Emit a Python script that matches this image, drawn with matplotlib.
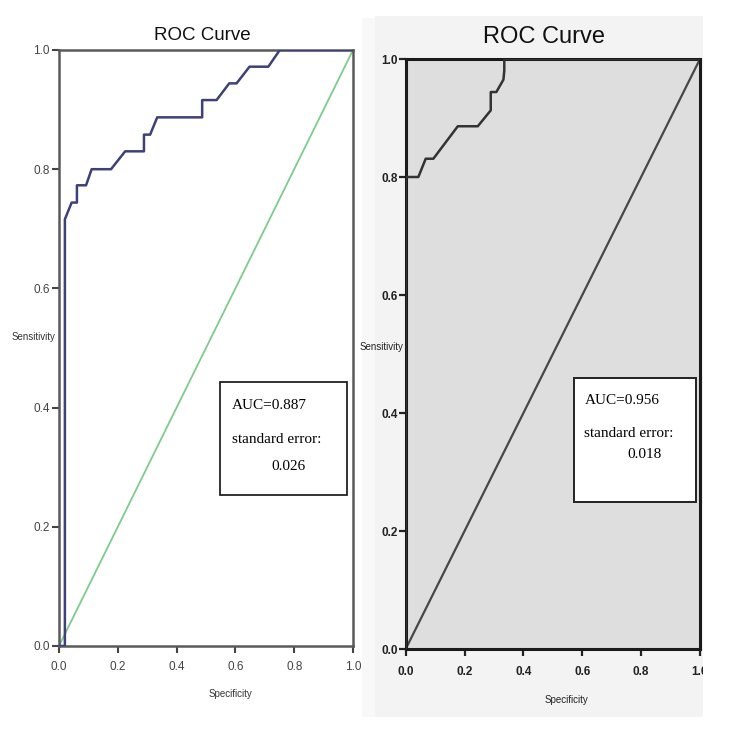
import matplotlib
matplotlib.use("Agg")
import matplotlib.pyplot as plt
from matplotlib.patches import Rectangle

# ---- data ----
left_spec = [0, 0.02, 0.02, 0.043, 0.061, 0.061, 0.092, 0.111, 0.177, 0.225, 0.289, 0.289,
             0.31, 0.334, 0.487, 0.487, 0.536, 0.579, 0.604, 0.648, 0.712, 0.751, 1.0]
left_sens = [0, 0, 0.716, 0.744, 0.744, 0.773, 0.773, 0.8, 0.8, 0.83, 0.83, 0.858,
             0.858, 0.887, 0.887, 0.916, 0.916, 0.944, 0.944, 0.972, 0.972, 1.0, 1.0]
right_spec = [0, 0, 0.043, 0.068, 0.094, 0.177, 0.245, 0.289, 0.289, 0.308, 0.332, 0.335, 0.335, 1.0]
right_sens = [0, 0.8, 0.8, 0.831, 0.831, 0.886, 0.886, 0.913, 0.944, 0.944, 0.965, 0.98, 1.0, 1.0]
ref_line = [0, 1]
ticks = [0.0, 0.2, 0.4, 0.6, 0.8, 1.0]
tick_labels = ["0.0", "0.2", "0.4", "0.6", "0.8", "1.0"]
titles = ["ROC Curve", "ROC Curve"]
auc_texts = ["AUC=0.887", "AUC=0.956"]
se_texts = ["0.026", "0.018"]

sans = "Liberation Sans"
serif = "Liberation Serif"

W, H = 750, 732
fig = plt.figure(figsize=(W / 100, H / 100), dpi=100)
fig.patch.set_facecolor("white")


def fx(px):
    return px / W


def fy(py):
    return 1 - py / H


# light gray backdrops of the pasted images
fig.add_artist(Rectangle((fx(375), fy(717)), (703 - 375) / W, (717 - 16) / H,
                         transform=fig.transFigure, facecolor="#f3f3f3", edgecolor="none", zorder=-5))
fig.add_artist(Rectangle((fx(362), fy(717)), 13 / W, (717 - 18) / H,
                         transform=fig.transFigure, facecolor="#f8f8f8", edgecolor="none", zorder=-5))

# ---- left panel ----
axL = fig.add_axes([fx(59), fy(646), (353 - 59) / W, (646 - 50) / H])
axL.set_facecolor("white")
axL.plot(ref_line, ref_line, color="#7fcb8c", lw=1.3, zorder=2)
axL.plot(left_spec, left_sens, color="#3d4178", lw=1.8, zorder=3)
axL.set_xlim(0, 1)
axL.set_ylim(0, 1)
for s in axL.spines.values():
    s.set_color("#5a5a5a")
    s.set_linewidth(1.8)
axL.set_xticks(ticks)
axL.set_yticks(ticks)
axL.set_xticklabels(tick_labels, fontfamily=sans, fontsize=8.5, color="#444444")
axL.set_yticklabels(tick_labels, fontfamily=sans, fontsize=8.5, color="#444444")
axL.tick_params(direction="out", length=5, width=1.5, color="#444444")
axL.tick_params(axis="x", pad=6)
axL.tick_params(axis="y", pad=1.5)
fig.text(fx(202), fy(35), titles[0], ha="center", va="center",
         fontfamily=sans, fontsize=13.5, color="#111111")
fig.text(fx(230), fy(694), "Specificity", ha="center", va="center",
         fontfamily=sans, fontsize=7, color="#333333")
fig.text(fx(34), fy(337), "Sensitivity", ha="center", va="center",
         fontfamily=sans, fontsize=7, color="#333333")
# AUC box
fig.add_artist(Rectangle((fx(220), fy(495)), (347 - 220) / W, (495 - 382) / H,
                         transform=fig.transFigure, facecolor="white", edgecolor="#222222",
                         lw=1.3, zorder=5))
fig.text(fx(232), fy(406), auc_texts[0], fontfamily=serif, fontsize=11,
         va="center", ha="left", zorder=6)
fig.text(fx(232), fy(439), "standard error:", fontfamily=serif, fontsize=11,
         va="center", ha="left", zorder=6)
fig.text(fx(288), fy(466), se_texts[0], fontfamily=serif, fontsize=11,
         va="center", ha="center", zorder=6)

# ---- right panel ----
axR = fig.add_axes([fx(405.7), fy(649), (700 - 405.7) / W, (649 - 59) / H])
axR.set_facecolor("#dedede")
axR.plot(ref_line, ref_line, color="#474747", lw=1.6, zorder=2)
axR.plot(right_spec, right_sens, color="#333333", lw=1.8, zorder=3)
axR.set_xlim(0, 1)
axR.set_ylim(0, 1)
for s in axR.spines.values():
    s.set_color("#1a1a1a")
    s.set_linewidth(2.2)
axR.set_xticks(ticks)
axR.set_yticks(ticks)
axR.set_xticklabels(tick_labels, fontfamily=sans, fontsize=8.5, fontweight="bold", color="#222222")
axR.set_yticklabels(tick_labels, fontfamily=sans, fontsize=8.5, fontweight="bold", color="#222222")
axR.tick_params(direction="out", length=5, width=1.6, color="#222222")
axR.tick_params(axis="x", pad=7)
axR.tick_params(axis="y", pad=0.5)
fig.text(fx(544), fy(37), titles[1], ha="center", va="center",
         fontfamily=sans, fontsize=17, color="#111111")
fig.text(fx(566), fy(700), "Specificity", ha="center", va="center",
         fontfamily=sans, fontsize=7, color="#222222")
fig.text(fx(382), fy(347), "Sensitivity", ha="center", va="center",
         fontfamily=sans, fontsize=7, color="#222222")
fig.add_artist(Rectangle((fx(574), fy(502)), (695.7 - 574) / W, (502 - 378.3) / H,
                         transform=fig.transFigure, facecolor="white", edgecolor="#222222",
                         lw=1.4, zorder=5))
fig.text(fx(585), fy(401), auc_texts[1], fontfamily=serif, fontsize=11,
         va="center", ha="left", zorder=6)
fig.text(fx(584), fy(433.5), "standard error:", fontfamily=serif, fontsize=11,
         va="center", ha="left", zorder=6)
fig.text(fx(644), fy(455), se_texts[1], fontfamily=serif, fontsize=11,
         va="center", ha="center", zorder=6)

# white area to the right of the right image (clips the last tick label)
fig.add_artist(Rectangle((fx(703), 0), (W - 703) / W, 1, transform=fig.transFigure,
                         facecolor="white", edgecolor="none", zorder=20))

fig.savefig("out.png", dpi=100)
